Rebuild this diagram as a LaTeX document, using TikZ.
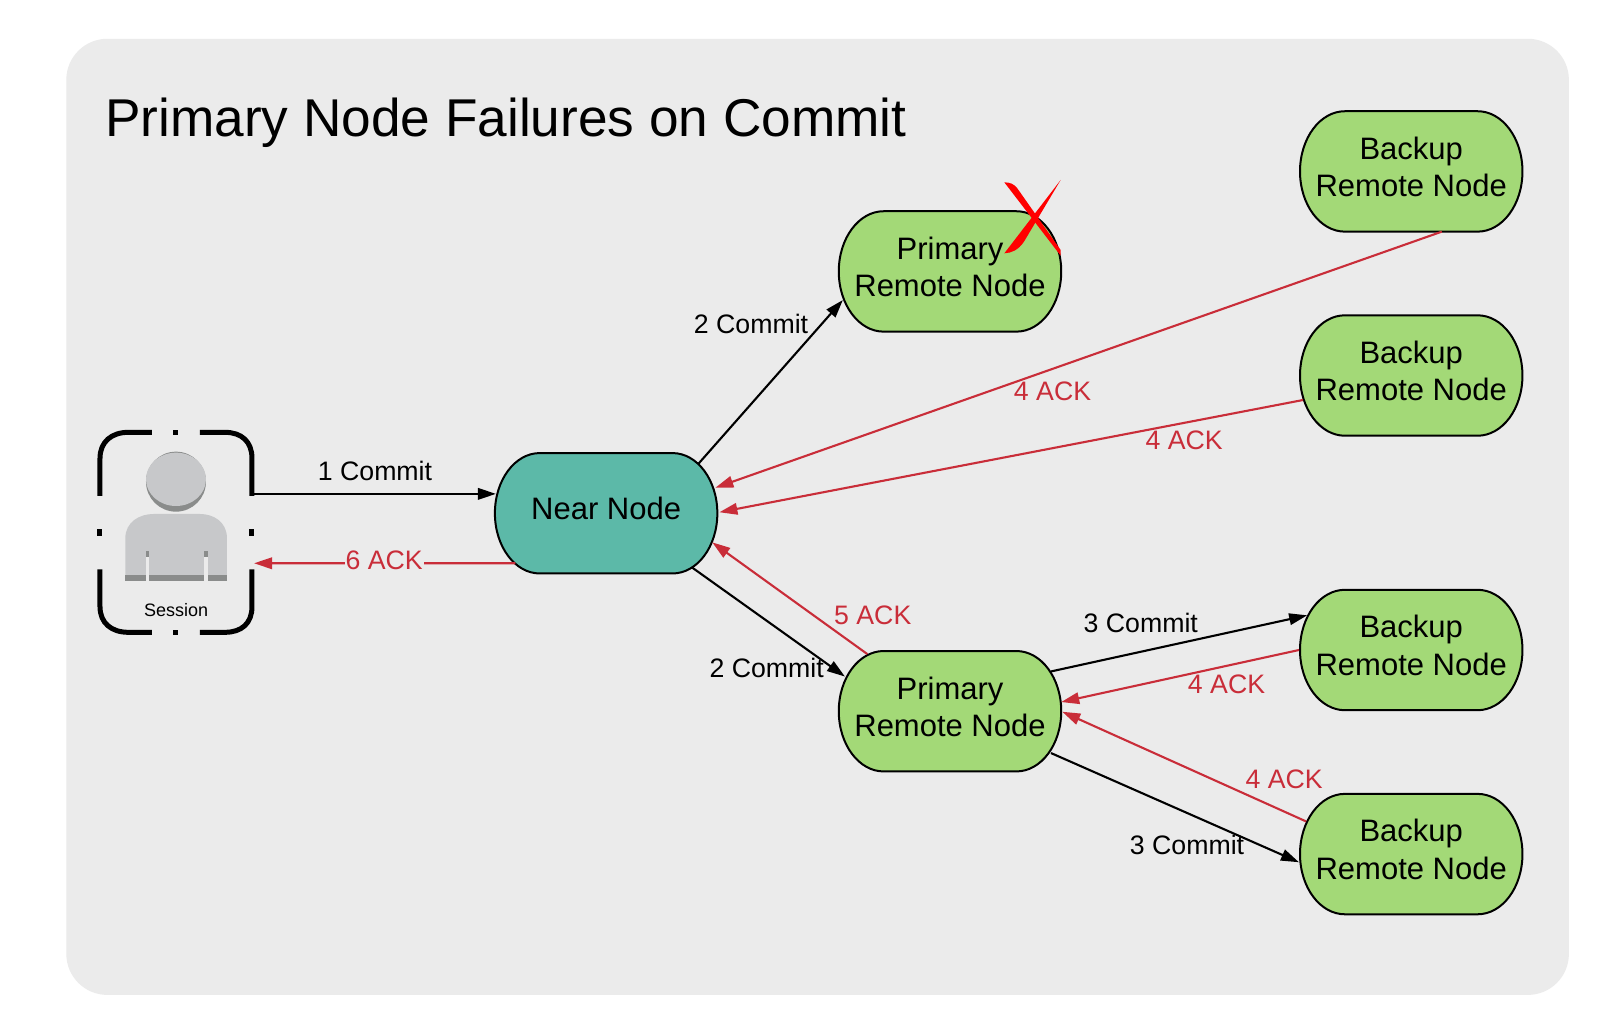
\documentclass[tikz,border=0pt]{standalone}
\usepackage{fontspec}
\setmainfont{Liberation Sans}
\usetikzlibrary{calc,arrows.meta}
\definecolor{panelgray}{HTML}{EBEBEB}
\definecolor{pillgreen}{HTML}{A3D977}
\definecolor{pillteal}{HTML}{5CB9A8}
\definecolor{ackred}{HTML}{C92D39}
\definecolor{personlight}{HTML}{C7C8CA}
\definecolor{persondark}{HTML}{8A8C8B}
\tikzset{
  pillshape/.style={draw=black,line width=2pt},
  pilltext/.style={font=\fontsize{31}{37.4}\selectfont,align=center,text=black,inner sep=0pt},
  commitline/.style={draw=black,line width=2.1pt,-{Triangle[length=18pt,width=11.5pt]}},
  ackline/.style={draw=ackred,line width=2.1pt,-{Triangle[length=18pt,width=11.5pt]}},
  commitlabel/.style={font=\fontsize{26.7}{32}\selectfont,text=black,inner sep=0pt},
  acklabel/.style={font=\fontsize{26.7}{32}\selectfont,text=ackred,inner sep=0pt},
  framebar/.style={line width=5pt,draw=black},
}
\newcommand{\pillnode}[5]{%
  \filldraw[pillshape,fill=#4] (#2-109,#3) .. controls (#2-109,#3-32.6) and (#2-89.3,#3-59) .. (#2-65,#3-59)
    -- (#2+65,#3-59) .. controls (#2+89.3,#3-59) and (#2+109,#3-32.6) .. (#2+109,#3)
    .. controls (#2+109,#3+32.6) and (#2+89.3,#3+59) .. (#2+65,#3+59)
    -- (#2-65,#3+59) .. controls (#2-89.3,#3+59) and (#2-109,#3+32.6) .. (#2-109,#3) -- cycle;
  \node[pilltext] (#1) at (#2,#3-4.5) {#5};}
\begin{document}
\begin{tikzpicture}[x=1.0204pt,y=-1.0204pt]
\useasboundingbox (0,0) rectangle (1568,1002.55);
\fill[white] (0,0) rectangle (1568,1002.55);
\fill[panelgray,rounded corners=41pt] (65,38) rectangle (1537.5,975);
\node[anchor=west,font=\fontsize{53.2}{60}\selectfont,inner sep=0pt] (title) at (103,120) {Primary Node Failures on Commit};

% session icon, in units of the 3x crop
\begin{scope}[shift={(58.8,392)},x=0.3333pt,y=-0.3333pt]
  \fill[persondark] (348,245) ellipse [x radius=90,y radius=90];
  \fill[personlight] (348,238) ellipse [x radius=90,y radius=80];
  \fill[personlight] (196,525) -- (196,415) .. controls (196,365) and (240,342) .. (280,342) -- (420,342) .. controls (460,342) and (501,365) .. (501,415) -- (501,525) -- cycle;
  \fill[persondark] (196,525) rectangle (501,542);
  \fill[persondark] (257,452) rectangle (267,470);
  \fill[persondark] (433,452) rectangle (443,470);
  \fill[panelgray] (257,470) rectangle (267,542);
  \fill[panelgray] (433,470) rectangle (443,542);
  \draw[framebar] (120,288) -- (120,175) .. controls (120,125) and (155,97) .. (205,97) -- (276,97);
  \draw[framebar] (420,97) -- (495,97) .. controls (545,97) and (576,125) .. (576,175) -- (576,288);
  \draw[framebar] (576,508) -- (576,620) .. controls (576,670) and (545,697) .. (495,697) -- (420,697);
  \draw[framebar] (276,697) -- (205,697) .. controls (155,697) and (120,670) .. (120,620) -- (120,508);
  \draw[framebar] (340,97) -- (355,97);
  \draw[framebar] (340,697) -- (355,697);
  \draw[framebar] (120,388) -- (120,408);
  \draw[framebar] (576,388) -- (576,408);
\end{scope}
\node[font=\fontsize{18}{22}\selectfont,inner sep=0pt] (session) at (172.5,597.5) {Session};

% nodes
\pillnode{near}{594}{503}{pillteal}{Near Node}
\pillnode{fail}{931}{266}{pillgreen}{Primary\\Remote Node}
\pillnode{ptwo}{931}{697}{pillgreen}{Primary\\Remote Node}
\pillnode{bone}{1383}{168}{pillgreen}{Backup\\Remote Node}
\pillnode{btwo}{1383}{368}{pillgreen}{Backup\\Remote Node}
\pillnode{bthree}{1383}{637}{pillgreen}{Backup\\Remote Node}
\pillnode{bfour}{1383}{837}{pillgreen}{Backup\\Remote Node}

% red cross on the failed node
\begin{scope}[shift={(803.6,156.8)},x=0.3333pt,y=-0.3333pt]
  \fill[red] (553,67) .. controls (570,67) and (582,72) .. (592,85) -- (722,270) -- (722,287) -- cycle;
  \fill[red] (722,60) -- (612,245) .. controls (595,270) and (575,279) .. (553,280) -- cycle;
\end{scope}

% connectors
\draw[commitline] ($(session)+(74.5,-113.5)$) -- ($(near)+(-108,-14.5)$);
\draw[ackline] ($(near)+(-89,53.5)$) -- ($(session)+(76.5,-45.5)$);
\draw[commitline] ($(near)+(90,-43.5)$) -- ($(fail)+(-105,32.5)$);
\draw[commitline] ($(near)+(84,57.5)$) -- ($(ptwo)+(-103,-29.5)$);
\draw[ackline] ($(ptwo)+(-81,-51.5)$) -- ($(near)+(104,33)$);
\draw[ackline] ($(bone)+(30,63.5)$) -- ($(near)+(107,-20.5)$);
\draw[ackline] ($(btwo)+(-106,28.5)$) -- ($(near)+(111,3.5)$);
\draw[commitline] ($(ptwo)+(99,-34.5)$) -- ($(bthree)+(-102,-29.5)$);
\draw[ackline] ($(bthree)+(-110,4.5)$) -- ($(ptwo)+(109,-4.5)$);
\draw[ackline] ($(bfour)+(-103,-27.5)$) -- ($(ptwo)+(110,5)$);
\draw[commitline] ($(ptwo)+(99,45.5)$) -- ($(bfour)+(-110,12.5)$);

% connector labels
\node[commitlabel] (lc1) at (367.5,461.7) {1 Commit};
\node[acklabel,fill=panelgray,inner xsep=1pt] (la6) at (376.5,549) {6 ACK};
\node[commitlabel] (lc2a) at (736,317) {2 Commit};
\node[commitlabel] (lc2b) at (751.3,655) {2 Commit};
\node[acklabel] (la5) at (855.3,603) {5 ACK};
\node[acklabel] (la4a) at (1031.5,383) {4 ACK};
\node[acklabel] (la4b) at (1160.5,431.5) {4 ACK};
\node[commitlabel] (lc3a) at (1118,610.6) {3 Commit};
\node[acklabel] (la4c) at (1202,671) {4 ACK};
\node[acklabel] (la4d) at (1258.5,764) {4 ACK};
\node[commitlabel] (lc3b) at (1163.3,828) {3 Commit};
\end{tikzpicture}
\end{document}
